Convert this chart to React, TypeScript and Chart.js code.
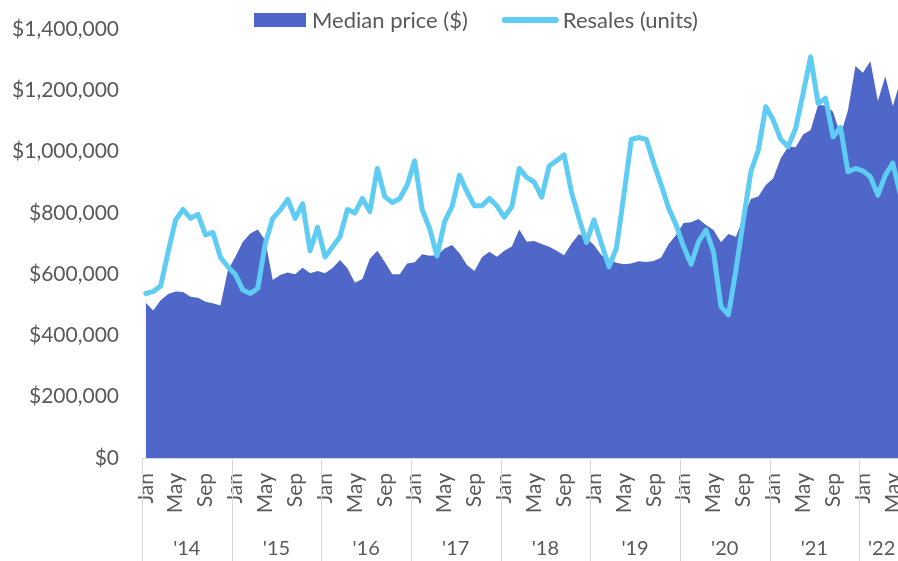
import React, { useEffect, useRef } from "react";
import { Chart, registerables } from "chart.js";

Chart.register(...registerables);

// ---- Data -----------------------------------------------------------------
const monthNames = ["Jan", "Feb", "Mar", "Apr", "May", "Jun", "Jul", "Aug", "Sep", "Oct", "Nov", "Dec"];
const yearLabels = ["'14", "'15", "'16", "'17", "'18", "'19", "'20", "'21", "'22"];
const shownMonths = ["Jan", "May", "Sep"];
const monthsInLastYear = 6; // data ends Jun 2022

// Median price ($), monthly Jan 2014 - Jun 2022
const medianPrice = [
  507000, 481000, 515000, 535000, 543000, 542000, 526000, 523000, 510000, 505000, 498000, 613000,
  657000, 706000, 733000, 746000, 710000, 581000, 597000, 605000, 600000, 621000, 603000, 610000,
  603000, 620000, 646000, 619000, 572000, 584000, 650000, 676000, 640000, 600000, 600000, 635000,
  639000, 665000, 660000, 662000, 684000, 695000, 668000, 630000, 610000, 655000, 673000, 657000,
  676000, 690000, 746000, 706000, 708000, 698000, 689000, 676000, 662000, 700000, 731000, 717000,
  695000, 662000, 646000, 637000, 632000, 635000, 642000, 640000, 643000, 654000, 698000, 728000,
  767000, 769000, 780000, 760000, 744000, 704000, 731000, 722000, 785000, 845000, 853000, 891000,
  913000, 978000, 1016000, 1014000, 1056000, 1070000, 1152000, 1150000, 1130000, 1054000, 1135000, 1279000,
  1257000, 1295000, 1165000, 1246000, 1148000, 1230000,
];

// Resales (units), monthly Jan 2014 - Jun 2022 (plotted on a hidden secondary axis)
const resalesUnits = [
  5370, 5430, 5610, 6730, 7770, 8110, 7820, 7950, 7280, 7360, 6550, 6240,
  5990, 5480, 5370, 5540, 7000, 7820, 8090, 8440, 7820, 8290, 6760, 7530,
  6560, 6890, 7220, 8110, 8000, 8470, 8040, 9450, 8530, 8340, 8470, 8910,
  9700, 8110, 7490, 6590, 7710, 8200, 9230, 8690, 8230, 8230, 8470, 8230,
  7860, 8200, 9450, 9160, 9000, 8510, 9530, 9700, 9890, 8660, 7820, 7030,
  7770, 7000, 6240, 6840, 8580, 10400, 10460, 10400, 9620, 8910, 8150, 7600,
  6900, 6320, 7060, 7440, 6730, 4940, 4670, 6130, 7770, 9340, 10050, 11460,
  11030, 10400, 10160, 10760, 11900, 13090, 11570, 11740, 10480, 10790, 9340, 9450,
  9370, 9180, 8580, 9230, 9620, 8600,
];

const priceAxisMax = 1400000;
const priceAxisStep = 200000;
const unitsAxisMax = 14000;

// ---- Styling ---------------------------------------------------------------
const FONT = "Lato, 'Open Sans', sans-serif";
const TEXT = "#595959";
const AREA = "#4E67C8";
const LINE = "#5ECCF3";
const GRID = "#D9D9D9";

const categories: string[] = [];
yearLabels.forEach((_, yi) => {
  const count = yi === yearLabels.length - 1 ? monthsInLastYear : 12;
  for (let m = 0; m < count; m++) categories.push(monthNames[m]);
});

const yearAxisPlugin = {
  id: "yearAxis",
  afterDraw(chart: any) {
    const xs = chart.scales.x;
    const ctx = chart.ctx;
    const n = chart.data.labels.length;
    const w = xs.getPixelForValue(1) - xs.getPixelForValue(0);
    const top = chart.chartArea.bottom;
    const bottom = chart.height;
    ctx.save();
    ctx.strokeStyle = GRID;
    ctx.lineWidth = 1;
    ctx.fillStyle = TEXT;
    ctx.font = `20px ${FONT}`;
    ctx.textAlign = "center";
    ctx.textBaseline = "middle";
    yearLabels.forEach((lab, yi) => {
      const s = yi * 12;
      const e = Math.min(s + 12, n);
      const left = xs.getPixelForValue(s) - w / 2;
      const right = xs.getPixelForValue(e - 1) + w / 2;
      const lx = Math.round(left) + 0.5;
      ctx.beginPath();
      ctx.moveTo(lx, top);
      ctx.lineTo(lx, bottom);
      ctx.stroke();
      if (yi === yearLabels.length - 1) {
        const rx = Math.round(right) - 0.5;
        ctx.beginPath();
        ctx.moveTo(rx, top);
        ctx.lineTo(rx, bottom);
        ctx.stroke();
      }
      ctx.fillText(lab, (left + right) / 2, 549);
    });
    ctx.restore();
  },
};

const legendPlugin = {
  id: "customLegend",
  afterDraw(chart: any) {
    const ctx = chart.ctx;
    const ds = chart.data.datasets;
    const area = ds.find((d: any) => d.fill);
    const line = ds.find((d: any) => !d.fill);
    ctx.save();
    ctx.font = `22px ${FONT}`;
    ctx.textBaseline = "middle";
    ctx.textAlign = "left";
    const cy = 20;
    let x = 254;
    ctx.fillStyle = area.backgroundColor;
    ctx.fillRect(x, 13, 52, 14);
    x += 58;
    ctx.fillStyle = TEXT;
    ctx.fillText(area.label, x, cy + 1);
    x += ctx.measureText(area.label).width + 34;
    ctx.strokeStyle = line.borderColor;
    ctx.lineWidth = 6;
    ctx.lineCap = "round";
    ctx.beginPath();
    ctx.moveTo(x + 3, cy);
    ctx.lineTo(x + 54, cy);
    ctx.stroke();
    x += 61;
    ctx.fillText(line.label, x, cy + 1);
    ctx.restore();
  },
};

export default function App() {
  const ref = useRef<HTMLCanvasElement | null>(null);

  useEffect(() => {
    if (!ref.current) return;
    const chart = new Chart(ref.current, {
      type: "line",
      data: {
        labels: categories,
        datasets: [
          {
            label: "Resales (units)",
            data: resalesUnits,
            yAxisID: "y1",
            borderColor: LINE,
            backgroundColor: LINE,
            borderWidth: 5,
            borderJoinStyle: "round",
            borderCapStyle: "round",
            pointRadius: 0,
            tension: 0,
            fill: false,
            order: 0,
          },
          {
            label: "Median price ($)",
            data: medianPrice,
            yAxisID: "y",
            borderWidth: 0,
            borderColor: AREA,
            backgroundColor: AREA,
            pointRadius: 0,
            tension: 0,
            fill: "origin",
            order: 1,
          },
        ],
      },
      options: {
        animation: false,
        responsive: true,
        maintainAspectRatio: false,
        layout: { padding: { top: 29, left: 0, right: 0, bottom: 0 } },
        plugins: { legend: { display: false }, tooltip: { enabled: false } },
        scales: {
          x: {
            type: "category",
            offset: true,
            grid: { display: false, drawTicks: false },
            border: { display: true, color: GRID, width: 1 },
            ticks: {
              autoSkip: false,
              minRotation: 90,
              maxRotation: 90,
              padding: 15,
              color: TEXT,
              font: { family: FONT, size: 21 },
              callback: function (this: any, _v: any, i: number) {
                const lab = categories[i];
                return shownMonths.includes(lab) ? lab : "";
              },
            },
            afterFit: (s: any) => {
              s.height = 103;
              s.paddingLeft = 0;
              s.paddingRight = 0;
            },
          },
          y: {
            position: "left",
            min: 0,
            max: priceAxisMax,
            grid: { display: false, drawTicks: false },
            border: { display: false },
            ticks: {
              stepSize: priceAxisStep,
              padding: 23,
              color: TEXT,
              font: { family: FONT, size: 21 },
              callback: (v: any) => "$" + Number(v).toLocaleString("en-US"),
            },
            afterFit: (s: any) => {
              s.width = 142;
              s.paddingTop = 0;
              s.paddingBottom = 0;
            },
          },
          y1: {
            display: false,
            min: 0,
            max: unitsAxisMax,
          },
        },
      },
      plugins: [yearAxisPlugin, legendPlugin],
    });
    return () => chart.destroy();
  }, []);

  return (
    <div style={{ position: "fixed", left: 0, top: 0, width: 898, height: 561, overflow: "hidden", background: "#fff" }}>
      <div style={{ position: "relative", width: 904, height: 561 }}>
        <canvas ref={ref} />
      </div>
    </div>
  );
}
